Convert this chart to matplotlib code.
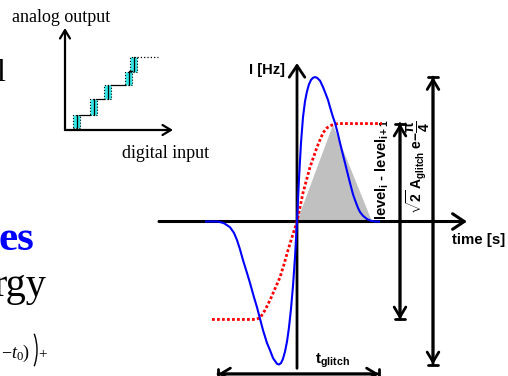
import matplotlib.pyplot as plt
from matplotlib.patches import Rectangle, Arc

plt.rcParams["mathtext.fontset"] = "custom"
plt.rcParams["mathtext.rm"] = "Liberation Serif"
plt.rcParams["mathtext.it"] = "Liberation Serif:italic"
plt.rcParams["mathtext.bf"] = "Liberation Sans:bold"
plt.rcParams["mathtext.sf"] = "Liberation Sans"

# glitch current vs time (time in arbitrary units, current normalised to peak)
t_glitch = [-9.1, -7.9, -7.3, -6.7, -6.3, -6.0, -5.7, -5.4, -5.0, -4.7, -4.3,
            -4.0, -3.7, -3.4, -3.0, -2.7, -2.4, -2.0, -1.8, -1.6, -1.4, -1.2,
            -1.0, -0.8, -0.6, -0.4, -0.2, 0.0, 0.2, 0.4, 0.6, 0.8, 1.0, 1.2,
            1.4, 1.6, 1.8, 2.0, 2.3, 2.6, 2.8, 3.1, 3.3, 3.6, 3.8, 4.1, 4.3,
            4.6, 4.8, 5.1, 5.3, 5.6, 5.8, 6.1, 6.3, 6.6, 7.0, 7.4, 7.8, 8.2]
i_glitch = [0.0, 0.0, -0.012, -0.04, -0.08, -0.13, -0.195, -0.27, -0.36,
            -0.43, -0.53, -0.60, -0.68, -0.76, -0.85, -0.90, -0.955, -0.995,
            -1.0, -0.99, -0.96, -0.91, -0.84, -0.74, -0.61, -0.45, -0.25, 0.0,
            0.30, 0.55, 0.73, 0.84, 0.91, 0.96, 0.99, 1.005, 1.01, 1.005,
            0.985, 0.94, 0.905, 0.85, 0.80, 0.73, 0.69, 0.61, 0.55, 0.465,
            0.41, 0.325, 0.27, 0.19, 0.15, 0.095, 0.066, 0.04, 0.017, 0.005,
            0.0, 0.0]

# ideal output transition between two levels
t_level = [-8.5, -4.2, -3.7, -3.2, -2.7, -2.2, -1.7, -1.3, -0.9, -0.5, 0.0,
           0.6, 1.3, 2.0, 2.6, 3.0, 3.5, 4.1, 8.5]
i_level = [-0.685, -0.685, -0.675, -0.62, -0.55, -0.47, -0.39, -0.30, -0.20,
           -0.11, 0.0, 0.20, 0.38, 0.52, 0.62, 0.655, 0.675, 0.685, 0.685]

# triangular approximation of the glitch area
t_area = [0.0, 3.6, 7.5]
i_area = [0.0, 0.675, 0.0]
t_span = [-7.9, 8.2]

# DAC transfer curve inset
dac_code = [0.8, 2.5, 3.9, 6.0, 6.5]
dac_level = [0.2, 1.5, 3.1, 4.5, 5.85, 7.3]
dac_width = 0.7

fig = plt.figure(figsize=(5.08, 3.76), dpi=100)

# ---- main glitch diagram ----
ax = fig.add_axes([0, 0, 1, 1])
ax.set_xlim(-29.7, 21.1)
ax.set_ylim(-1.0804, 1.549)
ax.axis("off")

ax.fill(t_area, i_area, color="#c0c0c0", lw=0, zorder=1)
ax.plot(t_level, i_level, color="red", lw=2, ls=(0, (1, 0.8)), zorder=4)
ax.plot(t_glitch, i_glitch, color="#0000ff", lw=1.5, zorder=5)

head = "->,head_length=0.6,head_width=0.4"
ax.annotate("", xy=(17.0, 0), xytext=(-13.8, 0),
            arrowprops=dict(arrowstyle=head, lw=2.2, color="black",
                            mutation_scale=14, shrinkA=0, shrinkB=0), zorder=3)
ax.annotate("", xy=(0, 1.108), xytext=(0, -1.027),
            arrowprops=dict(arrowstyle=head, lw=2.0, color="black",
                            mutation_scale=14, shrinkA=0, shrinkB=0), zorder=3)


def span_arrow(p0, p1):
    for style in ("<->,head_length=0.5,head_width=0.3", "|-|,widthA=0.25,widthB=0.25"):
        ax.annotate("", xy=p1, xytext=p0,
                    arrowprops=dict(arrowstyle=style, lw=2.0, color="black",
                                    mutation_scale=14, shrinkA=0, shrinkB=0),
                    zorder=3)


span_arrow((10.3, min(i_level)), (10.3, max(i_level)))
span_arrow((13.6, min(i_glitch)), (13.6, max(i_glitch)))
span_arrow((t_span[0], -1.066), (t_span[1], -1.066))

sans = "Liberation Sans"
ax.text(-1.2, 1.06, "I [Hz]", ha="right", va="center", fontsize=10.5,
        fontweight="bold", family=sans)
ax.text(15.5, -0.13, "time [s]", ha="left", va="center", fontsize=10.8,
        fontweight="bold", family=sans)
ax.text(1.8, -0.975, r"$\mathbf{t_{glitch}}$", ha="left", va="center",
        fontsize=11)
ax.text(8.5, 0.36, r"$\mathbf{level_{i}}$ - $\mathbf{level_{i+1}}$",
        rotation=90, ha="center", va="center", fontsize=10.5,
        fontweight="bold", family=sans)
ax.text(12.1, 0.38, r"$\mathbf{\sqrt{2}\ A_{glitch}\ e{-}\dfrac{\pi}{4}}$",
        rotation=90, ha="center", va="center", fontsize=10)

# ---- slide text around the diagram (pixel coordinates) ----
axp = fig.add_axes([0, 0, 1, 1], zorder=-1)
axp.set_xlim(0, 508)
axp.set_ylim(376, 0)
axp.axis("off")

serif = "Liberation Serif"
axp.text(12, 17, "analog output", fontsize=13, family=serif,
         ha="left", va="center")
axp.text(122, 154, "digital input", fontsize=13, family=serif,
         ha="left", va="center")
axp.text(-4, 81, "l", fontsize=23, family=serif, ha="left", va="baseline")
axp.text(34, 250, "es", fontsize=31, family=serif, fontweight="bold",
         color="#0000ff", ha="right", va="baseline")
axp.text(46, 296, "rgy", fontsize=29, family=serif, ha="right",
         va="baseline")
axp.text(30, 358, r"$-t_0)$", fontsize=13, ha="right", va="baseline")
axp.add_patch(Arc((24, 350), 26, 52, theta1=-58, theta2=58, color="black",
                  lw=1.0))
axp.text(38, 358, "+", fontsize=11, family=serif, ha="left", va="baseline")

# ---- DAC transfer inset ----
axi = fig.add_axes([65 / 508, 1 - 130 / 376, 110 / 508, 110 / 376])
axi.set_xlim(0, 11)
axi.set_ylim(0, 11)
axi.axis("off")

small = "->,head_length=0.5,head_width=0.3"
axi.annotate("", xy=(10.8, 0), xytext=(0, 0), annotation_clip=False,
             arrowprops=dict(arrowstyle=small, lw=1.6, color="black",
                             mutation_scale=12, shrinkA=0, shrinkB=0))
axi.annotate("", xy=(0, 10.2), xytext=(0, 0), annotation_clip=False,
             arrowprops=dict(arrowstyle=small, lw=1.6, color="black",
                             mutation_scale=12, shrinkA=0, shrinkB=0))

for k, x0 in enumerate(dac_code):
    y0, y1 = dac_level[k], dac_level[k + 1]
    axi.add_patch(Rectangle((x0, y0), dac_width, y1 - y0, facecolor="#33e6e6",
                            edgecolor="black", ls=":", lw=0.8, zorder=2))
    axi.plot([x0 + dac_width * 0.6] * 2, [y0, y1], color="black", lw=0.9,
             zorder=3)
    if k + 1 < len(dac_code):
        axi.plot([x0 + dac_width, dac_code[k + 1]], [y1, y1], color="black",
                 lw=0.9, zorder=3)
axi.plot([dac_code[-1] + dac_width, 9.3], [dac_level[-1]] * 2, color="black",
         lw=0.9, ls=":")

fig.savefig("out.png", dpi=100)
